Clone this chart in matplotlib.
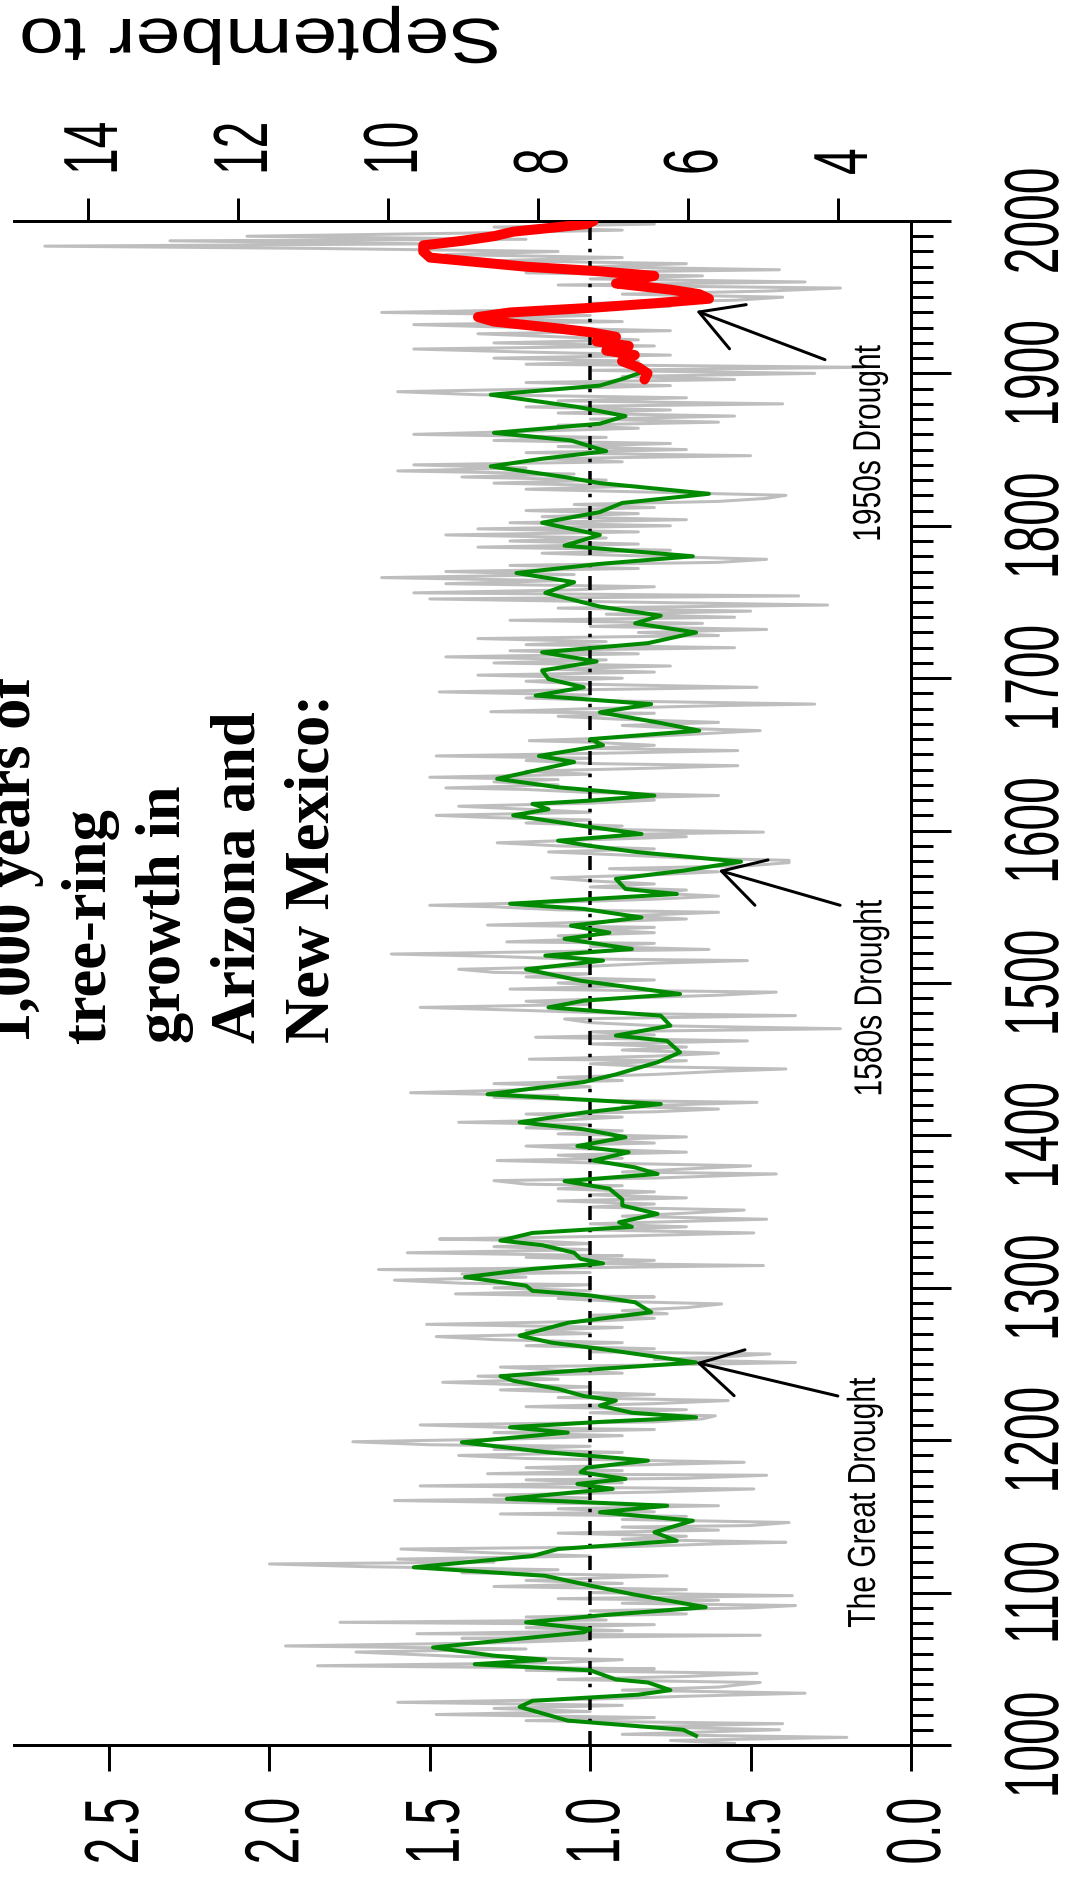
import matplotlib
matplotlib.use("Agg")
import matplotlib.pyplot as plt
from matplotlib.patheffects import AbstractPathEffect
from matplotlib.transforms import Affine2D
from matplotlib.ticker import MultipleLocator

plt.rcParams['font.family'] = ['Liberation Sans', 'DejaVu Sans']

# ---------------------------------------------------------------- data
# annual tree-ring index (grey trace), 1001-1700
gray_years_early = [
    1001, 1003, 1005, 1007, 1010, 1012, 1014, 1016, 1018, 1020, 1022, 1024, 1026, 1028, 1030, 1032,
    1034, 1036, 1038, 1041, 1043, 1045, 1047, 1049, 1050, 1052, 1054, 1056, 1058, 1061, 1063, 1065,
    1067, 1069, 1070, 1072, 1073, 1075, 1077, 1079, 1080.5, 1082, 1084, 1086, 1088, 1090, 1091.5,
    1093, 1095, 1096, 1098, 1100, 1102, 1104, 1106, 1108, 1111, 1113, 1115, 1117, 1118.8, 1120, 1122,
    1124, 1126, 1128.6, 1130, 1132, 1133, 1135, 1137, 1139, 1141, 1143, 1144, 1146, 1148, 1150,
    1151.6, 1153, 1155, 1157, 1159, 1160.4, 1162, 1164, 1166, 1168, 1170, 1172, 1174, 1175, 1177,
    1178, 1180, 1182, 1184, 1185.5, 1187, 1188, 1190, 1192, 1194, 1196, 1197, 1199, 1201, 1203, 1205,
    1207, 1208, 1210, 1212, 1214, 1216, 1218, 1220, 1222, 1224, 1226, 1228, 1230, 1233, 1235, 1238,
    1240, 1242, 1244, 1246, 1248, 1250, 1251, 1253, 1254.5, 1256.6, 1258, 1260, 1262, 1264, 1266,
    1268, 1270, 1272, 1274, 1276, 1278, 1280, 1282, 1283, 1285, 1287, 1289.4, 1291, 1293, 1294, 1296,
    1298, 1300, 1302, 1303, 1305, 1307, 1309, 1310, 1312, 1313, 1314.6, 1316, 1318, 1320, 1321, 1323,
    1325, 1327, 1329, 1331, 1332, 1334, 1336, 1338, 1340, 1342, 1345, 1347, 1349, 1351, 1353, 1355,
    1357, 1359, 1361, 1363, 1365, 1367, 1368, 1370.3, 1372, 1374.7, 1376, 1378, 1380, 1382, 1383.5,
    1385, 1387, 1389, 1391, 1393, 1395, 1397, 1399, 1401, 1403, 1405, 1407, 1408.6, 1410, 1412, 1414,
    1415.5, 1417.3, 1419, 1421.7, 1423, 1425, 1426, 1428, 1430, 1432, 1434, 1436, 1438, 1440, 1442,
    1443.6, 1445, 1447, 1449, 1450, 1452, 1454, 1456, 1458, 1460, 1462, 1464.4, 1466, 1468, 1470,
    1472, 1474, 1476.4, 1477.5, 1478.6, 1480, 1482, 1484, 1486, 1488, 1490, 1492, 1494, 1496, 1498,
    1500, 1502, 1504, 1506, 1507, 1509, 1511, 1513, 1514.7, 1516, 1517.5, 1519, 1521, 1522, 1524,
    1526, 1527, 1529, 1531, 1533, 1535, 1536.5, 1538, 1540, 1542, 1544, 1546.4, 1548, 1550, 1551,
    1553, 1555, 1557, 1559, 1561, 1563, 1565, 1567, 1569, 1571, 1573, 1575, 1577, 1579, 1580.5, 1582,
    1584, 1586, 1588, 1590, 1592, 1594, 1596, 1597.5, 1599, 1601, 1603, 1605, 1607, 1608.5, 1610,
    1612, 1614, 1616, 1618, 1620, 1621.5, 1623, 1625, 1627, 1628, 1630, 1632, 1633.5, 1635, 1637,
    1639, 1641, 1642.6, 1644, 1646, 1647.5, 1649, 1651, 1652.5, 1654, 1656, 1658, 1659, 1661, 1663,
    1665.6, 1667, 1669, 1671, 1673, 1675, 1677, 1678, 1680, 1682, 1683, 1685, 1687, 1689, 1691,
    1692.5, 1694, 1696, 1698, 1700,
]
gray_vals_early = [
    0.55, 0.75, 0.20, 0.90, 0.41, 0.85, 0.40, 1.20, 0.80, 1.48, 1.00, 1.30, 0.90, 1.60, 1.00, 0.70,
    0.33, 0.90, 0.60, 0.47, 1.10, 0.70, 0.48, 1.20, 0.80, 1.85, 1.10, 0.90, 1.40, 1.73, 1.20, 1.95,
    1.30, 1.00, 1.40, 0.47, 1.54, 0.90, 1.20, 0.80, 1.78, 0.95, 1.20, 0.70, 1.00, 0.50, 0.36,
    0.90, 0.60, 1.10, 0.37, 1.00, 0.70, 1.30, 0.90, 1.20, 0.76, 1.40, 1.10, 1.70, 2.00, 1.30, 1.60,
    1.00, 1.30, 1.59, 0.90, 0.60, 0.39, 0.90, 0.70, 1.10, 0.60, 0.90, 0.50, 0.38, 0.90, 0.70,
    1.28, 0.80, 1.10, 0.60, 1.20, 1.61, 1.00, 1.30, 0.80, 0.49, 1.53, 0.90, 1.20, 0.70, 0.45,
    1.32, 0.90, 1.20, 0.80, 0.52, 0.90, 1.20, 1.41, 0.90, 1.30, 1.00, 1.50, 1.74, 1.20, 0.90, 1.30,
    0.80, 1.20, 1.53, 0.80, 0.65, 0.61, 1.00, 0.70, 1.20, 0.80, 0.57, 1.10, 0.80, 1.28, 1.00, 1.46,
    1.10, 1.35, 0.90, 1.10, 1.28, 0.60, 0.36, 0.80, 0.60, 0.44, 1.00, 0.80, 1.20, 0.90, 1.30,
    1.48, 1.00, 1.20, 0.90, 1.51, 1.00, 0.80, 1.00, 0.76, 0.90, 0.70, 0.59, 0.90, 1.10, 0.80, 1.42,
    1.00, 1.30, 1.00, 1.40, 1.61, 1.20, 1.40, 1.00, 1.66, 1.10, 0.46, 1.00, 0.80, 1.20, 0.90, 1.57,
    1.00, 1.30, 1.00, 1.20, 1.47, 0.90, 0.49, 1.00, 0.70, 1.00, 0.45, 0.90, 0.70, 0.52, 1.00, 0.80,
    1.10, 0.70, 1.00, 0.80, 1.10, 0.90, 1.20, 1.30, 0.80, 0.42, 0.90, 0.70, 0.50, 1.00, 1.29,
    0.90, 1.10, 0.70, 1.00, 1.20, 0.80, 1.00, 0.70, 1.10, 0.90, 1.20, 1.00, 1.41, 1.10, 0.90, 1.20,
    0.80, 0.60, 0.90, 0.48, 1.00, 1.30, 1.10, 1.56, 1.20, 1.00, 1.30, 0.90, 1.10, 0.80, 0.60,
    0.39, 0.80, 1.00, 0.70, 1.19, 0.80, 0.60, 0.90, 0.70, 1.00, 0.51, 1.17, 0.80, 1.00, 0.22,
    0.80, 1.00, 1.08, 0.70, 0.36, 0.90, 1.20, 1.53, 1.00, 1.20, 0.90, 0.60, 0.42, 1.25, 0.90,
    1.10, 0.80, 1.20, 1.00, 1.30, 1.41, 1.00, 0.80, 0.51, 1.10, 1.30, 1.62, 1.00, 0.63, 1.00,
    0.80, 1.26, 1.00, 1.10, 0.80, 1.00, 0.80, 1.32, 1.00, 0.70, 0.90, 0.60, 1.10, 1.30, 1.50,
    1.10, 0.80, 0.60, 0.80, 0.70, 1.00, 0.80, 1.00, 1.12, 0.80, 0.60, 0.94, 0.50, 0.38, 0.38, 0.70,
    0.90, 1.13, 0.80, 1.10, 1.29, 1.00, 0.70, 0.90, 0.46, 1.00, 0.90, 1.20, 1.00, 1.30, 1.48,
    1.00, 1.20, 1.41, 1.00, 0.80, 0.90, 0.60, 1.00, 1.20, 1.45, 1.10, 1.30, 1.10, 1.50, 1.00,
    1.20, 0.80, 0.54, 1.00, 1.20, 1.00, 1.48, 0.90, 0.54, 1.00, 0.80, 1.00, 1.19, 0.90, 0.70,
    0.47, 0.70, 0.90, 0.60, 0.90, 1.10, 0.80, 1.31, 1.00, 0.60, 0.30, 0.90, 1.20, 1.00, 1.47,
    1.00, 0.48, 1.00, 1.20, 0.90,
]
# annual tree-ring index (grey trace), 1702-2000
gray_years_late = list(range(1702, 1983, 2)) + [1983.5, 1985, 1987, 1988, 1990, 1992, 1994,
                                                1996, 1998, 2000]
gray_vals_late = [
    1.35, 0.80, 1.15, 0.75, 1.30,  0.95, 1.45, 0.85, 1.25, 0.55,
    1.20, 0.95, 1.35, 0.60, 0.85,  0.45, 1.00, 0.65, 1.25, 0.55,
    0.95, 0.50, 1.10, 0.26, 0.90,  1.50, 0.35, 1.55, 1.05, 0.80,
    1.45, 1.10, 1.65, 1.05, 1.45,  0.85, 1.25, 0.60, 0.45, 0.80,
    1.15, 0.75, 1.35, 0.85, 1.25,  0.95, 1.45, 0.85, 1.35, 0.75,
    1.25, 0.70, 1.15, 0.85, 1.20,  0.80, 1.05, 0.60, 0.45, 0.39,
    0.80, 1.20, 0.85, 1.30, 0.95,  1.40, 1.05, 1.60, 1.20, 1.55,
    0.90, 1.15, 0.50, 1.20, 0.70,  1.10, 0.75, 1.30, 0.95, 1.55,
    1.20, 0.85, 1.10, 0.60, 1.00,  0.55, 1.10, 0.75, 1.20, 0.40,
    1.10, 0.70, 1.35, 1.60, 1.10,  0.75, 1.20, 0.55, 0.90, 0.30,
    1.00, 0.15, 1.20, 0.85, 1.30,  0.75, 1.20, 1.55, 0.80, 1.30,
    0.85, 1.10, 1.35, 0.75, 1.20,  1.55, 0.90, 1.35, 1.00, 1.65,
    1.10, 0.75, 1.00, 0.55, 0.40,  0.90, 0.45, 0.22, 1.10, 0.33,
    1.00, 0.65, 1.20, 0.41, 1.00,  0.70, 1.30, 0.90, 1.45, 1.10,
    1.85,
    2.70, 1.50, 2.31, 1.20, 2.07, 1.40, 0.90, 1.30, 0.80, 1.10,
]
gray_years = gray_years_early + gray_years_late
gray_vals = gray_vals_early + gray_vals_late

# smoothed tree-ring index (green trace)
green_years = [
    1006, 1010, 1016, 1025, 1029, 1033, 1036, 1041, 1043, 1049, 1053, 1056, 1058.6, 1064, 1074,
    1076, 1080.5, 1085, 1090.4, 1099, 1104.6, 1111, 1116.6, 1124, 1128.6, 1134, 1139.6, 1147.2,
    1152.7, 1157, 1161.5, 1166, 1168, 1171.3, 1174.6, 1179, 1182, 1186.6, 1192, 1198.6, 1205,
    1208.5, 1212, 1215, 1218, 1222.7, 1226, 1229, 1233.6, 1239, 1242, 1246.8, 1251, 1260, 1264,
    1268.6, 1277, 1284, 1290.5, 1295, 1298, 1301.4, 1307, 1312.4, 1316, 1319, 1323, 1328, 1331,
    1336, 1340, 1343, 1348.5, 1354, 1358, 1365, 1370, 1374.7, 1379, 1383.5, 1389, 1393, 1398.8,
    1404, 1408.6, 1415, 1420.6, 1427, 1435, 1440, 1448, 1454.5, 1462, 1465.5, 1472, 1478.6, 1481,
    1484, 1488.4, 1492.8, 1501.5, 1509, 1514.7, 1518, 1522.3, 1529, 1533, 1537.6, 1543, 1548.6,
    1552, 1558.4, 1561.7, 1568.3, 1573.7, 1579.6, 1585.8, 1590, 1593.4, 1597.8, 1603, 1610, 1614,
    1617.5, 1619.7, 1623, 1628.4, 1634, 1645, 1649, 1656, 1660, 1665.6, 1671, 1677.6, 1683, 1688.6,
    1694, 1699.5, 1705, 1711, 1717, 1723, 1730, 1736, 1741, 1747, 1756, 1763, 1769, 1775, 1780,
    1787, 1794, 1802, 1809, 1815, 1821, 1828, 1832, 1839, 1844, 1849, 1856, 1861, 1867, 1872, 1878,
    1886, 1892, 1897, 1900,
]
green_vals = [
    0.67, 0.71, 1.07, 1.22, 1.18, 0.85, 0.75, 0.82, 0.92, 1.00, 1.36, 1.14, 1.30, 1.49, 1.02,
    1.00, 1.20, 0.97, 0.64, 0.87, 1.00, 1.14, 1.55, 1.18, 1.10, 0.73, 0.80, 0.68,
    0.97, 0.76, 1.26, 1.04, 0.93, 1.04, 0.89, 1.03, 1.01, 0.82, 1.13, 1.40, 1.07,
    1.25, 0.97, 0.67, 0.87, 0.97, 0.92, 1.02, 1.10, 1.24, 1.28, 0.97, 0.67, 0.97, 1.12,
    1.22, 1.07, 0.81, 0.86, 1.00, 1.18, 1.20, 1.39, 1.18, 0.96, 1.03, 1.05, 1.15, 1.28,
    1.18, 0.87, 0.91, 0.79, 0.90, 0.90, 0.94, 1.08, 0.79, 0.86, 0.99, 0.88, 1.04, 0.89,
    1.02, 1.22, 1.02, 0.78, 1.32, 1.02, 0.92, 0.79, 0.72, 0.76, 0.92, 0.75, 0.78, 0.94,
    1.13, 1.02, 0.72, 1.03, 1.20, 0.96, 1.14, 0.87, 1.08, 0.94, 1.06, 0.84, 1.02,
    1.25, 0.73, 0.89, 0.92, 0.71, 0.53, 0.85, 1.00, 1.10, 0.84, 1.02, 1.24, 1.13,
    1.18, 1.00, 0.80, 1.10, 1.29, 1.05, 1.16, 0.96, 1.00, 0.66, 0.79, 0.97, 0.81, 1.17,
    1.02, 1.13, 1.15, 0.98, 1.15, 0.82, 0.67, 0.86, 0.78, 0.97, 1.14, 1.05, 1.23, 0.97, 0.68,
    1.08, 0.97, 1.15, 0.97, 0.90, 0.63, 0.97, 1.08, 1.31, 1.15, 0.95, 1.06, 1.30, 0.97, 0.89, 1.04,
    1.31, 0.97, 0.89, 0.85,
]

# smoothed September-to-August precipitation, inches (red trace)
red_years = [1896, 1900, 1904, 1908, 1912, 1915, 1918, 1921, 1924, 1927, 1930, 1934, 1937, 1940,
             1943, 1946, 1949, 1952, 1955, 1959, 1962, 1964, 1967, 1970, 1973, 1976, 1980, 1984,
             1987, 1990, 1993, 1996, 1998, 2000]
red_vals = [6.58, 6.54, 6.66, 6.88, 6.71, 7.09, 6.79, 7.22, 6.96, 7.30, 7.82, 8.59, 8.80, 8.37,
            7.30, 6.45, 5.72, 5.85, 6.24, 6.96, 6.66, 6.45, 7.18, 8.16, 8.80, 9.44, 9.53, 9.53,
            9.01, 8.59, 8.33, 7.73, 7.35, 7.26]

index_ticks = [0.0, 0.5, 1.0, 1.5, 2.0, 2.5]
index_labels = ['0.0', '0.5', '1.0', '1.5', '2.0', '2.5']
precip_ticks = [4, 6, 8, 10, 12, 14]
year_ticks = list(range(1000, 2001, 100))

droughts = ['The Great Drought', '1580s Drought', '1950s Drought']
drought_text_at = [(0.145, 1159), (0.125, 1490), (0.129, 1854)]
drought_tail = [(0.228, 1229), (0.221, 1551), (0.268, 1909)]
drought_head = [(0.67, 1251), (0.60, 1574), (0.67, 1941)]

title_text = "1,000 years of\ntree-ring\ngrowth in\nArizona and\nNew Mexico:"

# ---------------------------------------------------------------- helpers
W, H, DPI = 1070, 1881, 100
PX = 72 / DPI          # points per pixel


class Widen(AbstractPathEffect):
    """Draw text glyphs stretched horizontally about the text anchor."""

    def __init__(self, text, factor, dx=0.0):
        super().__init__()
        self._text = text
        self._factor = factor
        self._dx = dx

    def draw_path(self, renderer, gc, tpath, affine, rgbFace=None):
        x0 = self._text.get_transform().transform(self._text.get_unitless_position())[0]
        widen = (Affine2D().translate(-x0, 0).scale(self._factor, 1.0)
                 .translate(x0 + self._dx, 0))
        renderer.draw_path(gc, tpath, affine + widen, rgbFace)


def widen(text, factor, dx=0.0):
    text.set_path_effects([Widen(text, factor, dx)])


# index <-> precipitation (linear relation between the two horizontal scales)
P0, PSLOPE = 3.027, 4.277
IDX_LEFT = (911 - 14) / 320.8

# ---------------------------------------------------------------- figure
fig = plt.figure(figsize=(W / DPI, H / DPI), dpi=DPI)
ax = fig.add_axes([14 / W, (H - 1746) / H, (911 - 14) / W, (1746 - 222) / H])
ax.set_xlim(IDX_LEFT, 0)
ax.set_ylim(1000, 2000)

ax.plot(gray_vals, gray_years, color='#BEBEBE', lw=3 * PX, zorder=2)
ax.axvline(1.0, color='black', lw=3.5 * PX, dashes=(4, 2.5, 1, 2.5), zorder=3)
ax.plot(green_vals, green_years, color='#008A00', lw=4 * PX, zorder=4)

for spine in ('top', 'bottom', 'right'):
    ax.spines[spine].set_linewidth(3 * PX)
ax.spines['left'].set_visible(False)

# tree-ring index axis (bottom)
ax.set_xticks(index_ticks)
ax.set_xticklabels(index_labels)
ax.tick_params(axis='x', length=26 * PX, width=3 * PX, pad=27 * PX,
               labelsize=34.5, labelrotation=90)

# year axis (right)
ax.yaxis.tick_right()
ax.set_yticks(year_ticks)
ax.yaxis.set_minor_locator(MultipleLocator(10))
ax.tick_params(axis='y', which='major', length=40 * PX, width=3 * PX, pad=51 * PX,
               labelsize=34.5, labelrotation=90)
ax.tick_params(axis='y', which='minor', length=22 * PX, width=3 * PX)

# precipitation axis (top)
ax2 = ax.twiny()
ax2.set_xlim(P0 + PSLOPE * IDX_LEFT, P0)
ax2.plot(red_vals, red_years, color='red', lw=10 * PX, solid_capstyle='round', zorder=5)
for spine in ax2.spines.values():
    spine.set_visible(False)
ax2.set_xticks(precip_ticks)
ax2.tick_params(axis='x', length=23 * PX, width=3 * PX, pad=23 * PX,
                labelsize=34.5, labelrotation=90)

for lbl in ax.get_xticklabels():
    lbl.set_ha('center')
    lbl.set_va('top')
    widen(lbl, 1.6, 9)
for lbl in ax2.get_xticklabels():
    lbl.set_ha('center')
    lbl.set_va('bottom')
    widen(lbl, 1.6, 9)
for lbl in ax.get_yticklabels():
    lbl.set_ha('left')
    lbl.set_va('center')
    widen(lbl, 1.6)

# drought annotations
for name, (tx, ty), tail, head in zip(droughts, drought_text_at, drought_tail, drought_head):
    t = ax.text(tx, ty, name, rotation=90, ha='center', va='center', fontsize=21.6, zorder=6)
    widen(t, 1.3)
    ax.annotate('', xy=head, xytext=tail, zorder=6,
                arrowprops=dict(arrowstyle='->,head_length=3.0,head_width=1.7',
                                mutation_scale=10, lw=3 * PX, color='black',
                                shrinkA=0, shrinkB=0))

# axis title of the precipitation scale
sep = fig.text(503 / W, 1 - 7 / H, 'September to', rotation=180, ha='right', va='top',
               fontsize=45.7)
widen(sep, 1.27)

# heading
fig.text(343 / W, 1 - 1043 / H, title_text, rotation=90, ha='right', va='bottom',
         multialignment='left', linespacing=1.38, fontsize=45, fontweight='bold',
         family=['Liberation Serif', 'DejaVu Serif'])

fig.savefig('out.png', dpi=DPI)
